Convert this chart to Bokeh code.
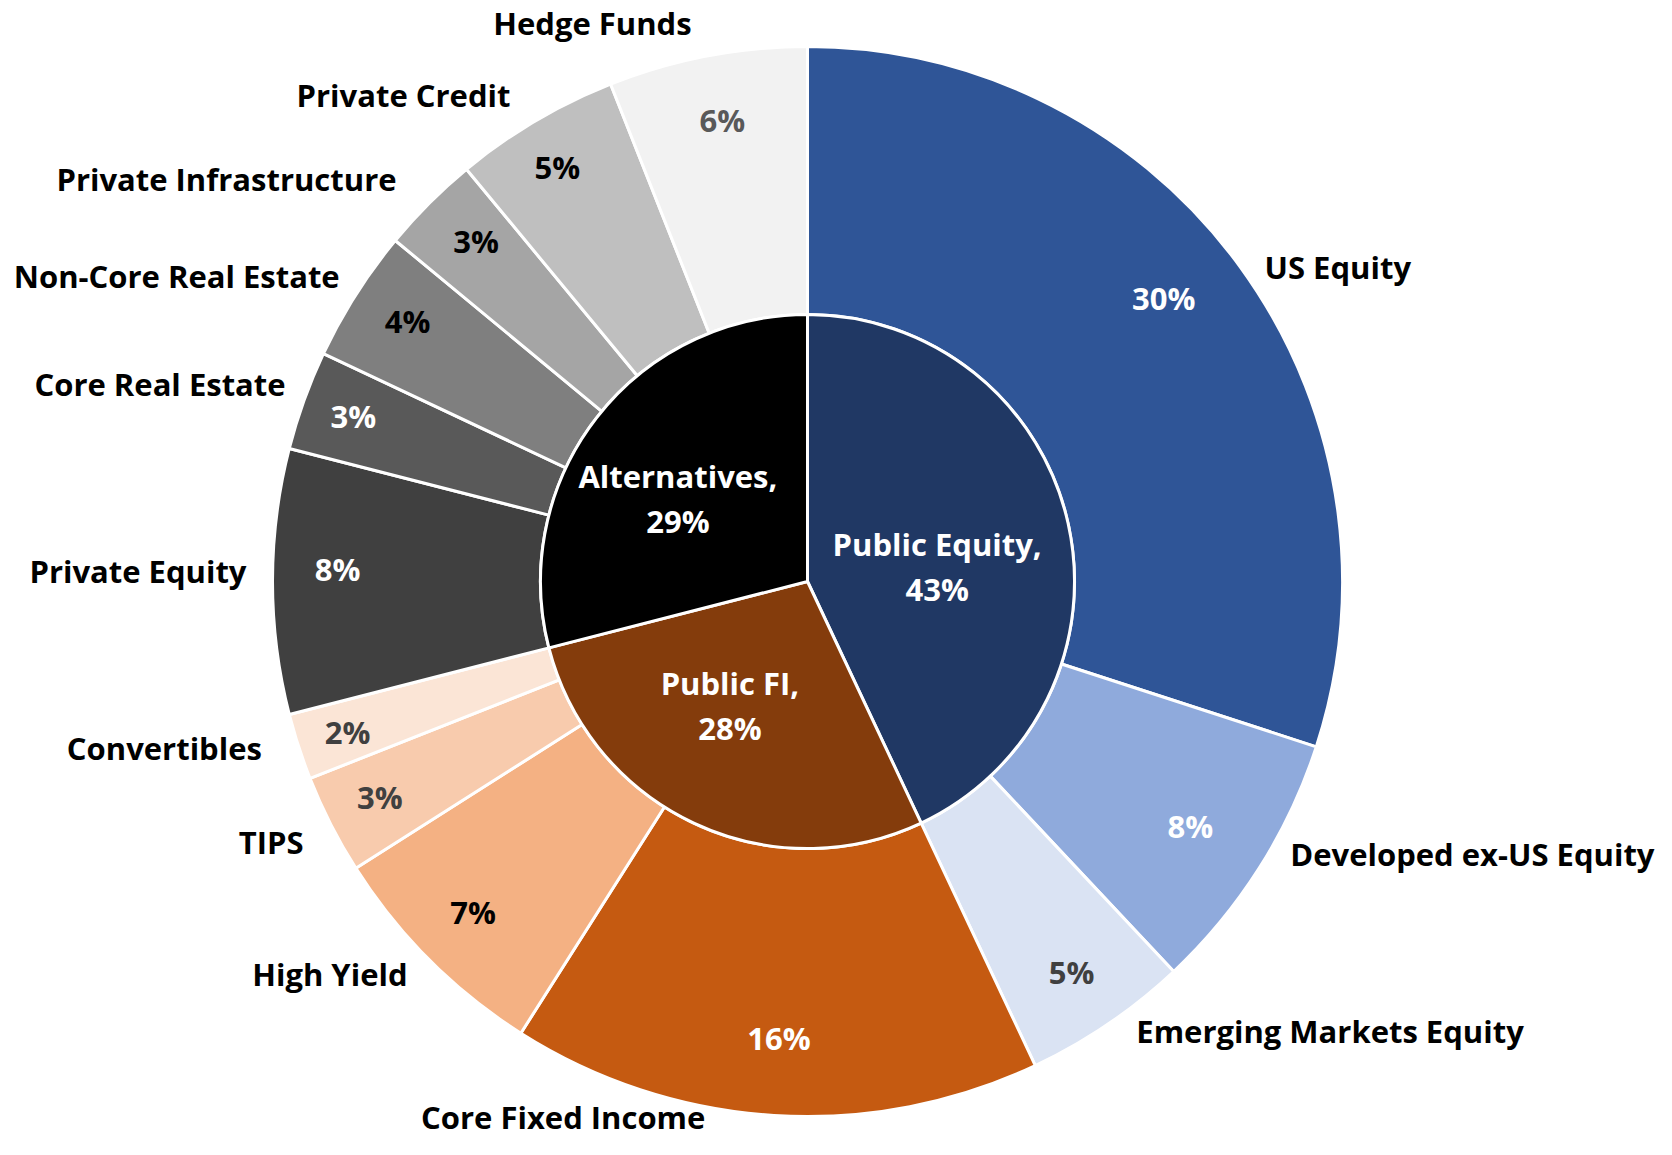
import numpy as np
from bokeh.plotting import figure
from bokeh.models import Range1d, ColumnDataSource
from bokeh.core.properties import value
from bokeh.embed import file_html
from bokeh.resources import INLINE

# ---------------- data ----------------
groups = ["Public Equity", "Public FI", "Alternatives"]
group_values = [43, 28, 29]
group_colors = ["#203864", "#843C0C", "#000000"]

categories = ["US Equity", "Developed ex-US Equity", "Emerging Markets Equity",
              "Core Fixed Income", "High Yield", "TIPS", "Convertibles",
              "Private Equity", "Core Real Estate", "Non-Core Real Estate",
              "Private Infrastructure", "Private Credit", "Hedge Funds"]
values = [30, 8, 5, 16, 7, 3, 2, 8, 3, 4, 3, 5, 6]
colors = ["#2F5597", "#8FAADC", "#DAE3F3",
          "#C55A11", "#F4B183", "#F8CBAD", "#FBE5D6",
          "#404040", "#595959", "#7F7F7F", "#A5A5A5", "#BFBFBF", "#F2F2F2"]
value_text_colors = ["white", "white", "#404040",
                     "white", "black", "#404040", "#404040",
                     "white", "white", "black", "black", "black", "#595959"]

# ---------------- layout (screen px, y downward) ----------------
CX, CY = 808, 583
R_IN, R_OUT = 267, 535
R_VAL, R_CAT, R_GRP = 470, 560, 140
FS = 31
CAP_HALF = 0.357 * FS
TEXT_FIX = 9.5
FONT = "Open Sans"
cat_nudge = [(4, 13), (10, -29), (14, -15), (-67, -25), (-4, -5), (-5, 5), (-13, -8),
             (-1, -12), (5, -9), (5, -7), (-15, -8), (-12, -6), (-11, -10)]
val_nudge = [(-24, -9), (-14, -9), (0, 0), (1, -14), (-2, -3), (-9, 1), (-13, 4),
             (0, -14), (-12, -8), (-3, -10), (1, -10), (-11, -12), (3, -1)]
grp_nudge = [(-7, 13.5), (-18, -4), (-19, 1.5)]
LINE_GAP = 45


def angles(vals):
    v = np.asarray(vals, dtype=float)
    tot = v.sum()
    cum = np.cumsum(v)
    t_s = 360 * (cum - v) / tot
    t_e = 360 * cum / tot
    t_m = (t_s + t_e) / 2
    return t_s, t_e, t_m


def ty(screen_y):
    # data y (up) of the alphabetic baseline for a given cap-centre screen y
    return -(np.asarray(screen_y) + CAP_HALF) + TEXT_FIX


p = figure(width=1656, height=1139,
           x_range=Range1d(1, 1657), y_range=Range1d(-1141, -2),
           min_border=0, toolbar_location=None, output_backend="svg",
           x_axis_location=None, y_axis_location=None)
p.grid.visible = False
p.outline_line_color = None
p.background_fill_color = "white"

# outer ring
s, e, m = angles(values)
outer = ColumnDataSource(dict(
    start=np.radians(90 - s), end=np.radians(90 - e), color=colors))
p.annular_wedge(x=CX, y=-CY, inner_radius=R_IN, outer_radius=R_OUT,
                start_angle="start", end_angle="end", direction="clock",
                fill_color="color", line_color="white", line_width=3, source=outer)

# inner pie
gs, ge, gm = angles(group_values)
inner = ColumnDataSource(dict(
    start=np.radians(90 - gs), end=np.radians(90 - ge), color=group_colors))
p.wedge(x=CX, y=-CY, radius=R_IN,
        start_angle="start", end_angle="end", direction="clock",
        fill_color="color", line_color="white", line_width=3, source=inner)

# value labels in ring
rad = np.radians(m)
vx = CX + R_VAL * np.sin(rad) + np.array([n[0] for n in val_nudge])
vy_scr = CY - R_VAL * np.cos(rad) + np.array([n[1] for n in val_nudge])
vsrc = ColumnDataSource(dict(x=vx, y=ty(vy_scr),
                             text=[f"{v}%" for v in values], color=value_text_colors))
p.text(x="x", y="y", text="text", text_color="color", source=vsrc,
       text_font=value(FONT), text_font_style="bold", text_font_size=f"{FS}px",
       text_align="center", text_baseline="alphabetic")

# category labels outside
cx_ = CX + R_CAT * np.sin(rad) + np.array([n[0] for n in cat_nudge])
cy_scr = CY - R_CAT * np.cos(rad) + np.array([n[1] for n in cat_nudge])
align = ["left" if t < 180 else "right" for t in m]
csrc = ColumnDataSource(dict(x=cx_, y=ty(cy_scr), text=categories, align=align))
p.text(x="x", y="y", text="text", text_color="black", source=csrc,
       text_font=value(FONT), text_font_style="bold", text_font_size=f"{FS}px",
       text_align="align", text_baseline="alphabetic")

# group labels (two lines)
grad = np.radians(gm)
gx = CX + R_GRP * np.sin(grad) + np.array([n[0] for n in grp_nudge])
gy_scr = CY - R_GRP * np.cos(grad) + np.array([n[1] for n in grp_nudge])
l1 = ColumnDataSource(dict(x=gx, y=ty(gy_scr - LINE_GAP / 2),
                           text=[f"{g}," for g in groups]))
l2 = ColumnDataSource(dict(x=gx, y=ty(gy_scr + LINE_GAP / 2),
                           text=[f"{v}%" for v in group_values]))
for src in (l1, l2):
    p.text(x="x", y="y", text="text", text_color="white", source=src,
           text_font=value(FONT), text_font_style="bold", text_font_size=f"{FS}px",
           text_align="center", text_baseline="alphabetic")

open("out.html", "w").write(file_html(p, INLINE))
